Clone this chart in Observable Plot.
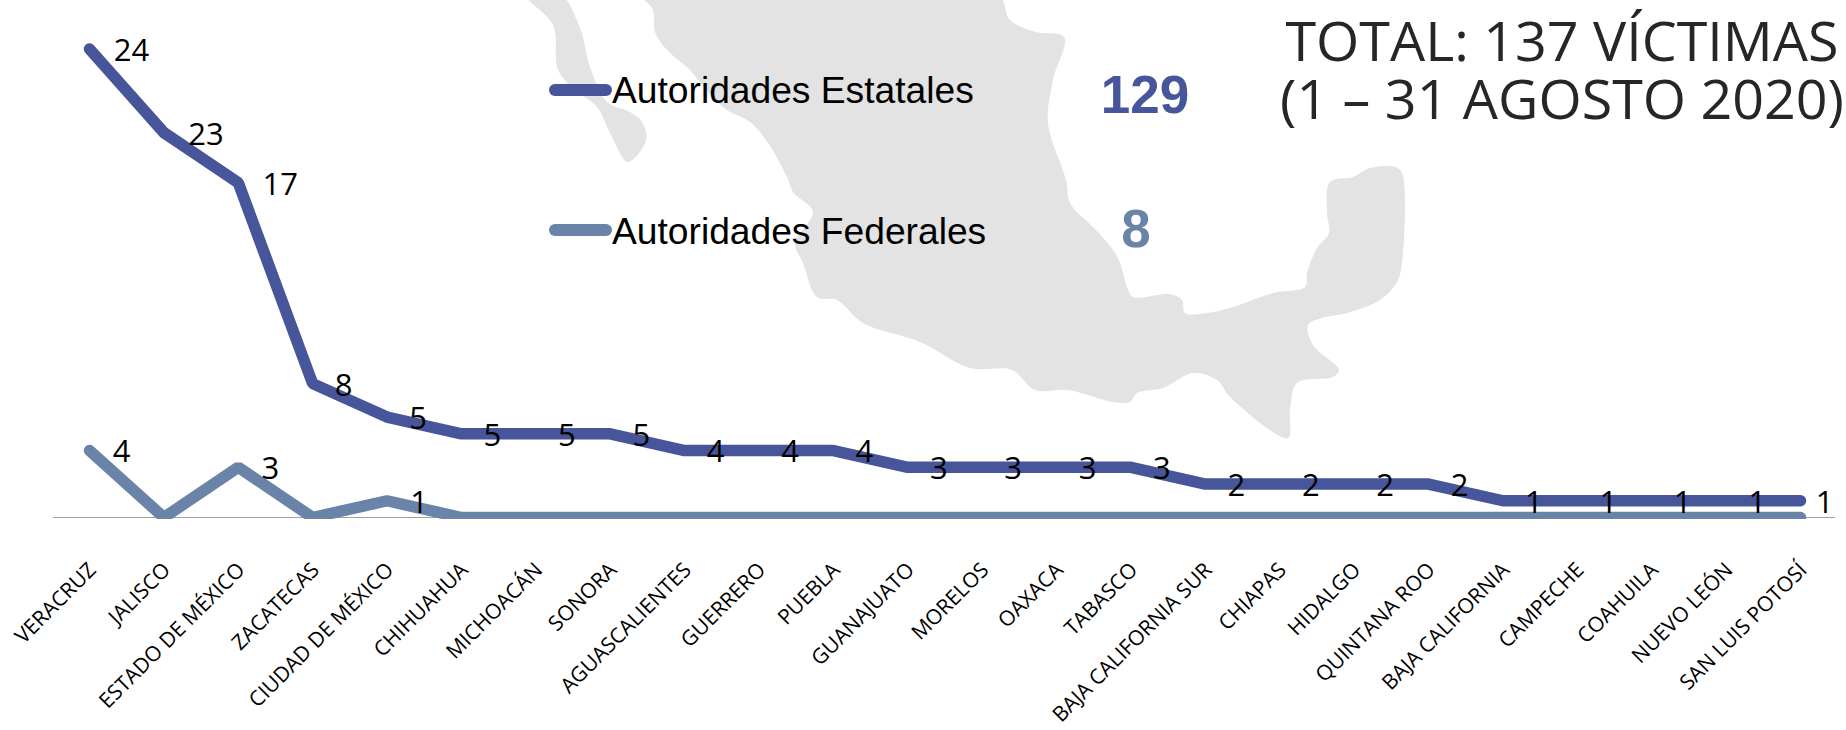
<!DOCTYPE html>
<html lang="es">
<head>
<meta charset="utf-8">
<script src="https://cdn.jsdelivr.net/npm/d3@7"></script>
<script src="https://cdn.jsdelivr.net/npm/@observablehq/plot@0.6"></script>
<style>
html,body{margin:0;padding:0;background:#fff;width:1846px;height:730px;overflow:hidden}
#wrap{position:relative;width:1846px;height:730px}
#chart svg{display:block;position:absolute;left:0;top:0;background:transparent}
.ov{position:absolute;white-space:nowrap;line-height:1}
.leg{font-family:"Liberation Sans",Arial,sans-serif;font-size:37.2px;color:#000;left:612px}
.num{font-family:"Liberation Sans",Arial,sans-serif;font-weight:700;font-size:53px;transform:translateX(-50%)}
.sw{position:absolute;left:549px;width:63px;height:12px;border-radius:6px}
#title{position:absolute;left:1562px;top:11px;transform:translateX(-50%);text-align:center;white-space:nowrap;font-family:"Open Sans",sans-serif;font-size:55.6px;line-height:58px;color:#262626}
</style>
</head>
<body>
<div id="wrap">
  <div id="chart"></div>
  <div class="sw" style="top:84px;background:#47559b"></div>
  <div class="ov leg" style="top:72px">Autoridades Estatales</div>
  <div class="ov num" style="left:1145px;top:68px;color:#47559b">129</div>
  <div class="sw" style="top:224px;background:#6a84a9"></div>
  <div class="ov leg" style="top:213px">Autoridades Federales</div>
  <div class="ov num" style="left:1136px;top:202px;color:#6a84a9">8</div>
  <div id="title">TOTAL: 137 VÍCTIMAS<br>(1 – 31 AGOSTO 2020)</div>
</div>
<script>
const states = ["VERACRUZ","JALISCO","ESTADO DE MÉXICO","ZACATECAS","CIUDAD DE MÉXICO","CHIHUAHUA","MICHOACÁN","SONORA","AGUASCALIENTES","GUERRERO","PUEBLA","GUANAJUATO","MORELOS","OAXACA","TABASCO","BAJA CALIFORNIA SUR","CHIAPAS","HIDALGO","QUINTANA ROO","BAJA CALIFORNIA","CAMPECHE","COAHUILA","NUEVO LEÓN","SAN LUIS POTOSÍ"];
const estatales = [24,23,17,8,5,5,5,5,4,4,4,3,3,3,3,2,2,2,2,1,1,1,1,1];
const federales = [4,0,3,0,1,0,0,0,0,0,0,0,0,0,0,0,0,0,0,0,0,0,0,0];
const seriesNames = ["Autoridades Federales","Autoridades Estatales"];
const seriesColors = ["#6a84a9","#47559b"];

// Background silhouette of Mexico.
const mapBaja = [[525,-6],[553,25],[558,70],[575,90],[597,107],[610,133],[628,162],[646,140],[642,122],[630,112],[607,102],[590,67],[580,28],[560,-6]];
const mapMainland = [[642,-6],[653,10],[655,32],[667,50],[690,70],[708,92],[727,110],[750,122],[768,143],[787,177],[793,192],[813,212],[795,243],[803,263],[817,297],[837,300],[863,323],[920,342],[970,368],[1012,370],[1035,390],[1068,390],[1113,402],[1130,402],[1137,393],[1163,388],[1193,373],[1217,380],[1230,397],[1288,438],[1290,410],[1297,383],[1333,377],[1339,370],[1313,345],[1308,325],[1322,318],[1347,313],[1380,300],[1397,282],[1402,263],[1402,173],[1395,167],[1370,168],[1353,177],[1330,182],[1327,213],[1329,233],[1317,248],[1307,273],[1305,287],[1273,293],[1233,307],[1207,313],[1185,313],[1182,300],[1170,294],[1133,297],[1127,287],[1120,263],[1113,250],[1093,227],[1075,210],[1069,200],[1066,180],[1048,123],[1053,80],[1064,37],[1036,32],[1010,20],[997,-6]];

const rows = seriesNames.flatMap((s, k) => states.map((state, i) => ({
  state, i, series: s, value: (k === 0 ? federales : estatales)[i]
})));
const stack = o => Plot.stackY2({x: "state", y: "value", z: "series", order: seriesNames, ...o});
const isEst = d => d.series === seriesNames[1];
const label = test => d => (test(d) && d.value > 0 ? String(d.value) : null);
const labelStyle = {fontFamily: "'Open Sans',sans-serif", fontSize: 31, fill: "#000", dy: 2, textAnchor: "middle"};

const mapMark = () => {
  const g = d3.create("svg:g");
  const outline = d3.line().curve(d3.curveCatmullRomClosed.alpha(0.5));
  g.selectAll("path").data([mapBaja, mapMainland]).join("path")
    .attr("d", d => outline(d))
    .attr("fill", "#e3e3e3");
  return g.node();
};

const plot = Plot.plot({
  width: 1846, height: 730,
  marginLeft: 53, marginRight: 11, marginTop: 15, marginBottom: 211,
  style: {background: "transparent"},
  x: {type: "point", domain: states, range: [89, 1800], padding: 0, round: false, label: null},
  y: {domain: [-0.12, 30], axis: null},
  color: {domain: seriesNames, range: seriesColors},
  marks: [
    mapMark,
    Plot.ruleY([0], {stroke: "#a0a0a0", strokeWidth: 1}),
    Plot.axisX({anchor: "bottom", tickSize: 0, tickRotate: -45, tickPadding: 47, dx: 3, fontSize: 21, fontFamily: "'Open Sans',sans-serif", fill: "#000", label: null}),
    Plot.line(rows, stack({stroke: "series", strokeWidth: 11.5, strokeLinecap: "round", strokeLinejoin: "miter", clip: true})),
    Plot.text(rows, stack({text: label(d => isEst(d) && d.i < 3), dx: 42, ...labelStyle})),
    Plot.text(rows, stack({text: label(d => isEst(d) && d.i >= 3 && d.i < 23), dx: 31, ...labelStyle})),
    Plot.text(rows, stack({text: label(d => isEst(d) && d.i === 23), dx: 24, ...labelStyle})),
    Plot.text(rows, stack({text: label(d => !isEst(d)), dx: 32, ...labelStyle}))
  ]
});
document.getElementById("chart").append(plot);
</script>
</body>
</html>
